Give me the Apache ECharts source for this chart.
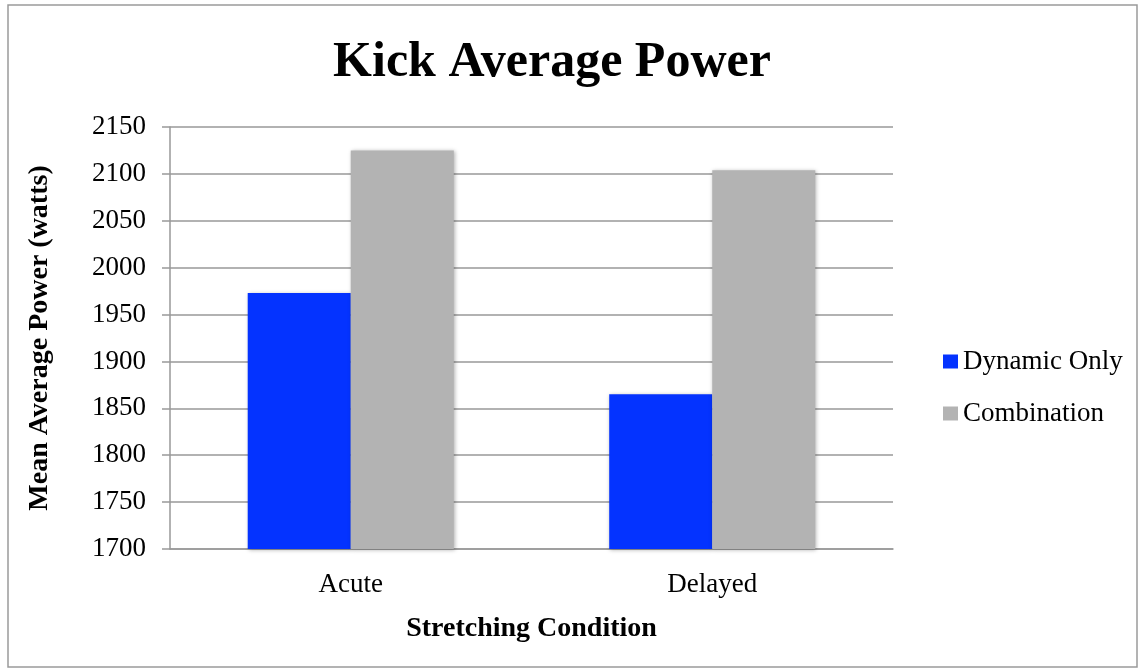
<!DOCTYPE html>
<html><head><meta charset="utf-8">
<script src="https://cdn.jsdelivr.net/npm/echarts@6/dist/echarts.min.js"></script>
<style>html,body{margin:0;padding:0;background:#fff}#c{width:1145px;height:672px}</style>
</head><body><div id="c"></div>
<script>
const categories = ['Acute', 'Delayed'];
const dynamicOnly = [1973, 1865];
const combination = [2125, 2104];
const yMin = 1700, yMax = 2150, yStep = 50;

const F = '"Liberation Serif", "DejaVu Serif", serif';
const chart = echarts.init(document.getElementById('c'), null, {renderer: 'canvas'});
chart.setOption({
  backgroundColor: '#fff',
  animation: false,
  title: {
    text: 'Kick Average Power', left: 547, top: 33, textAlign: 'center',
    textStyle: {fontFamily: F, fontWeight: 'bold', fontSize: 50, color: '#000'}
  },
  graphic: [{
    type: 'rect', shape: {x: 8, y: 5, width: 1129, height: 662},
    style: {fill: 'none', stroke: '#9a9a9a', lineWidth: 1.5}, silent: true
  }],
  legend: {
    orient: 'vertical', left: 943, top: 348, itemWidth: 15, itemHeight: 14, itemGap: 25,
    icon: 'rect', padding: 0,
    textStyle: {fontFamily: F, fontSize: 27, color: '#000'},
    data: ['Dynamic Only', 'Combination']
  },
  grid: {left: 170, right: 252, top: 127, bottom: 123, containLabel: false},
  xAxis: {
    type: 'category', data: categories,
    axisLine: {lineStyle: {color: '#999', width: 1.5}},
    axisTick: {show: false},
    axisLabel: {fontFamily: F, fontSize: 27, color: '#000', margin: 22},
    name: 'Stretching Condition', nameLocation: 'middle', nameGap: 66,
    nameTextStyle: {fontFamily: F, fontWeight: 'bold', fontSize: 28, color: '#000'}
  },
  yAxis: {
    type: 'value', min: yMin, max: yMax, interval: yStep,
    axisLine: {show: true, lineStyle: {color: '#999', width: 1.5}},
    axisTick: {show: true, length: 8, lineStyle: {color: '#999', width: 1.5}},
    splitLine: {lineStyle: {color: '#999', width: 1.5}},
    axisLabel: {fontFamily: F, fontSize: 27, color: '#000', margin: 24, formatter: v => String(v)},
    name: 'Mean Average Power (watts)', nameLocation: 'middle', nameGap: 116,
    nameTextStyle: {fontFamily: F, fontWeight: 'bold', fontSize: 28, color: '#000'}
  },
  series: [
    {name: 'Dynamic Only', type: 'bar', data: dynamicOnly, barGap: '0%', barCategoryGap: '43%',
     itemStyle: {color: '#0433FF', shadowBlur: 4, shadowColor: 'rgba(0,0,0,0.3)', shadowOffsetX: 1, shadowOffsetY: 1}},
    {name: 'Combination', type: 'bar', data: combination, barGap: '0%', barCategoryGap: '43%',
     itemStyle: {color: '#B3B3B3', shadowBlur: 4, shadowColor: 'rgba(0,0,0,0.3)', shadowOffsetX: 1, shadowOffsetY: 1}}
  ]
});
</script></body></html>
